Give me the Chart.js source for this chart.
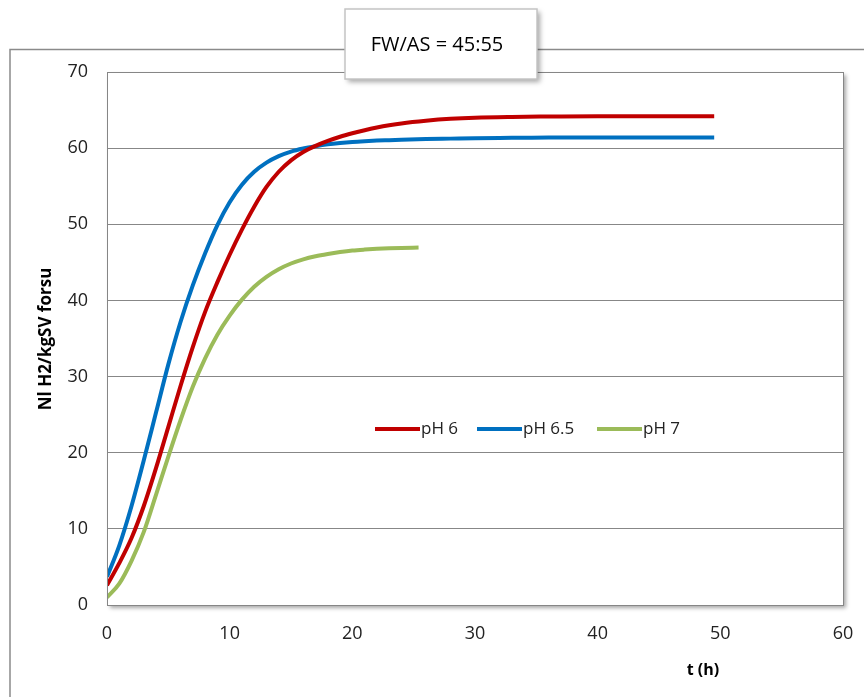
<!DOCTYPE html>
<html>
<head>
<meta charset="utf-8">
<script src="https://cdn.jsdelivr.net/npm/chart.js@4/dist/chart.umd.min.js"></script>
<style>
  html, body { margin: 0; padding: 0; background: #fff; }
  canvas { display: block; }
</style>
</head>
<body>
<canvas id="chart" width="864" height="697"></canvas>
<script>
// time (h) for pH 6 and pH 6.5, and for pH 7
const tLong = [0,1,2,3,4,5,6,7,8,9,10,11,12,13,14,15,16,17,18,19,20,21,22,23,24,26,28,30,33,36,40,45,49.5];
const tShort = [0,1,2,3,4,5,6,7,8,9,10,11,12,13,14,15,16,17,18,19,20,21,22,23,24,25.4];

const ph6 = [2.6,5.5,8.8,13.0,18.0,23.4,28.8,33.9,38.5,42.4,46.0,49.3,52.3,54.9,56.9,58.4,59.5,60.3,60.95,61.5,61.95,62.35,62.7,63.0,63.25,63.6,63.85,64.0,64.1,64.15,64.2,64.2,64.2];
const ph65 = [3.7,7.8,13.0,19.0,25.3,31.6,37.2,42.0,46.2,49.9,52.9,55.2,56.9,58.1,58.95,59.55,59.95,60.25,60.5,60.68,60.82,60.92,61.0,61.05,61.1,61.2,61.25,61.3,61.35,61.4,61.4,61.4,61.4];
const ph7 = [1.0,2.8,5.8,9.6,14.5,19.5,24.3,28.7,32.4,35.5,38.0,40.1,41.8,43.1,44.1,44.85,45.4,45.8,46.1,46.35,46.55,46.68,46.78,46.85,46.9,46.95];

const seriesLabels = ['pH 6', 'pH 6.5', 'pH 7'];
const xTicks = [0, 10, 20, 30, 40, 50, 60];
const yTicks = [0, 10, 20, 30, 40, 50, 60, 70];
const chartTitle = 'FW/AS = 45:55';
const xTitle = 't (h)';
const yTitle = 'Nl H2/kgSV forsu';

const FONT = '"Open Sans", "Noto Sans", sans-serif';

function pts(ts, vs) {
  return vs.map((v, i) => ({ x: ts[i], y: v }));
}

function line(label, data, color) {
  return {
    label: label,
    data: data,
    borderColor: color,
    backgroundColor: color,
    borderWidth: 4,
    pointRadius: 0,
    cubicInterpolationMode: 'monotone',
    fill: false
  };
}

// frame, plot box with shadow, title box, legend, axis titles
const decor = {
  id: 'decor',
  beforeDraw(chart) {
    const ctx = chart.ctx;
    const a = chart.chartArea;
    ctx.save();
    // outer frame, runs off the canvas
    ctx.strokeStyle = '#8a8a8a';
    ctx.lineWidth = 1.5;
    ctx.strokeRect(10, 49.5, 900, 800);
    // plot area with shadow
    ctx.shadowColor = 'rgba(0,0,0,0.35)';
    ctx.shadowBlur = 4;
    ctx.shadowOffsetX = 3;
    ctx.shadowOffsetY = 3;
    ctx.fillStyle = '#fff';
    ctx.fillRect(a.left, a.top, a.right - a.left, a.bottom - a.top);
    ctx.restore();
  },
  afterDraw(chart) {
    const ctx = chart.ctx;
    const a = chart.chartArea;
    ctx.save();
    // plot border
    ctx.strokeStyle = '#868686';
    ctx.lineWidth = 1;
    ctx.strokeRect(Math.round(a.left) + 0.5, Math.round(a.top) + 0.5, Math.round(a.right - a.left), Math.round(a.bottom - a.top));

    // title box
    ctx.save();
    ctx.shadowColor = 'rgba(0,0,0,0.35)';
    ctx.shadowBlur = 5;
    ctx.shadowOffsetX = 3;
    ctx.shadowOffsetY = 3;
    ctx.fillStyle = '#fff';
    ctx.fillRect(345, 9, 192, 70);
    ctx.restore();
    ctx.strokeStyle = '#c4c4c4';
    ctx.lineWidth = 1.5;
    ctx.strokeRect(345, 9, 192, 70);
    ctx.fillStyle = '#000';
    ctx.font = '20px ' + FONT;
    ctx.textAlign = 'center';
    ctx.textBaseline = 'middle';
    ctx.fillText(chartTitle, 437, 45);

    // axis titles
    ctx.font = 'bold 16px ' + FONT;
    ctx.fillText(xTitle, 703, 670);
    ctx.save();
    ctx.translate(46, 339);
    ctx.rotate(-Math.PI / 2);
    ctx.font = 'bold 17px ' + FONT;
    ctx.fillText(yTitle, 0, 0);
    ctx.restore();

    // legend inside the plot
    ctx.font = '17px ' + FONT;
    ctx.textAlign = 'left';
    const starts = [375, 477, 597];
    const ly = 429;
    chart.data.datasets.forEach((ds, i) => {
      ctx.strokeStyle = ds.borderColor;
      ctx.lineWidth = 4;
      ctx.beginPath();
      ctx.moveTo(starts[i], ly);
      ctx.lineTo(starts[i] + 45, ly);
      ctx.stroke();
      ctx.fillStyle = '#222';
      ctx.fillText(ds.label, starts[i] + 46, ly);
    });
    ctx.restore();
  }
};

new Chart(document.getElementById('chart'), {
  type: 'line',
  data: {
    datasets: [
      line(seriesLabels[0], pts(tLong, ph6), '#C00000'),
      line(seriesLabels[1], pts(tLong, ph65), '#0070C0'),
      line(seriesLabels[2], pts(tShort, ph7), '#9BBB59')
    ]
  },
  options: {
    responsive: false,
    animation: false,
    layout: { padding: { top: 72, right: 21, left: 0, bottom: 0 } },
    plugins: {
      legend: { display: false },
      title: { display: false },
      tooltip: { enabled: false }
    },
    scales: {
      x: {
        type: 'linear',
        min: 0,
        max: 60,
        afterFit(s) { s.height = 92; s.paddingLeft = 0; s.paddingRight = 0; },
        afterBuildTicks(s) { s.ticks = xTicks.map(v => ({ value: v })); },
        grid: { display: false, drawTicks: false },
        border: { display: false },
        ticks: {
          padding: 18,
          color: '#222',
          font: { family: FONT, size: 18 },
          maxRotation: 0
        }
      },
      y: {
        min: 0,
        max: 70,
        afterFit(s) { s.width = 107; s.paddingTop = 0; s.paddingBottom = 0; },
        afterBuildTicks(s) { s.ticks = yTicks.map(v => ({ value: v })); },
        grid: { color: '#878787', lineWidth: 1, drawTicks: false },
        border: { display: false },
        ticks: {
          padding: 19,
          color: '#222',
          font: { family: FONT, size: 18 }
        }
      }
    }
  },
  plugins: [decor]
});
</script>
</body>
</html>
